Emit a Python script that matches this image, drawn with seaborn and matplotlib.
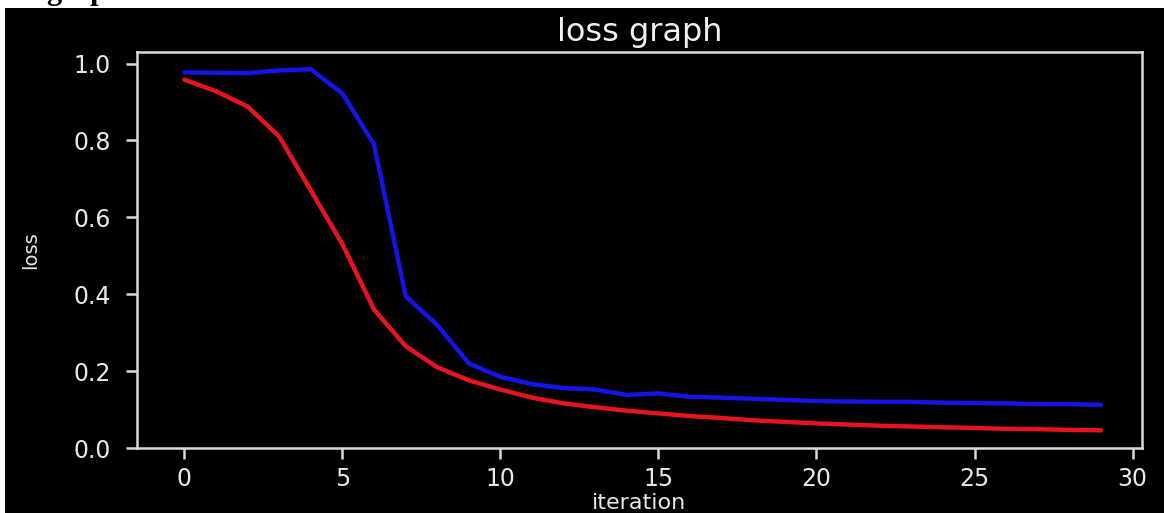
import numpy as np
import pandas as pd
import matplotlib
matplotlib.use("Agg")
import matplotlib.pyplot as plt
from matplotlib.patches import Rectangle
import seaborn as sns

# ---- data ----
iterations = list(range(30))
blue_loss = [0.977, 0.976, 0.975, 0.982, 0.985, 0.922, 0.79, 0.395, 0.32, 0.22,
             0.185, 0.166, 0.156, 0.152, 0.138, 0.142, 0.133, 0.131, 0.128, 0.125,
             0.122, 0.121, 0.120, 0.120, 0.118, 0.117, 0.116, 0.114, 0.114, 0.112]
red_loss = [0.958, 0.928, 0.888, 0.81, 0.67, 0.53, 0.36, 0.265, 0.21, 0.176,
            0.152, 0.131, 0.116, 0.106, 0.097, 0.090, 0.083, 0.078, 0.072, 0.068,
            0.064, 0.061, 0.058, 0.056, 0.054, 0.052, 0.050, 0.049, 0.047, 0.046]
x_ticks = [0, 5, 10, 15, 20, 25, 30]
y_ticks = [0.0, 0.2, 0.4, 0.6, 0.8, 1.0]

df = pd.DataFrame({"iteration": iterations, "blue": blue_loss, "red": red_loss})

sns.set_style("dark")
plt.rcParams["font.family"] = ["DejaVu Sans"]

W, H = 1164, 513
fig = plt.figure(figsize=(W / 100, H / 100), dpi=100)
fig.patch.set_facecolor("white")

# black screenshot background (white strip on top/left)
bg = Rectangle((5 / W, 0), 1 - 5 / W, 1 - 8 / H, transform=fig.transFigure,
               facecolor="black", edgecolor="none", zorder=-5)
fig.add_artist(bg)
# cropped document heading above the screenshot
fig.text(46 / W, 1 + 1 / H, "graph", family="Liberation Serif", fontweight="bold",
         fontsize=22, color="black", ha="left", va="baseline", zorder=-6)

ax = fig.add_axes([137 / W, (H - 448) / H, (1142 - 137) / W, (448 - 52) / H])
ax.set_zorder(5)
ax.set_facecolor("black")

sns.lineplot(data=df, x="iteration", y="blue", ax=ax, color="#1414e6", linewidth=3.2)
sns.lineplot(data=df, x="iteration", y="red", ax=ax, color="#e61420", linewidth=3.2)

ax.set_xlim(-1.5, 30.3)
ax.set_ylim(0, 1.03)
ax.set_xticks(x_ticks)
ax.set_yticks(y_ticks)
ax.set_yticklabels([f"{v:.1f}" for v in y_ticks])
ax.grid(False)

for s in ax.spines.values():
    s.set_visible(True)
    s.set_color("#d8d8d8")
    s.set_linewidth(1.8)

ax.tick_params(axis="both", colors="#d8d8d8", labelcolor="#e8e8e8", labelsize=17,
               length=8, width=1.8, direction="out", pad=6, bottom=True, left=True)
ax.tick_params(axis="y", pad=11)

ax.set_title("loss graph", color="#f0f0f0", fontsize=23, pad=8)
ax.set_xlabel("iteration", color="#e8e8e8", fontsize=16, labelpad=1)
ax.set_ylabel("loss", color="#e8e8e8", fontsize=14, labelpad=24)

fig.savefig("out.png", dpi=100, facecolor=fig.get_facecolor())
